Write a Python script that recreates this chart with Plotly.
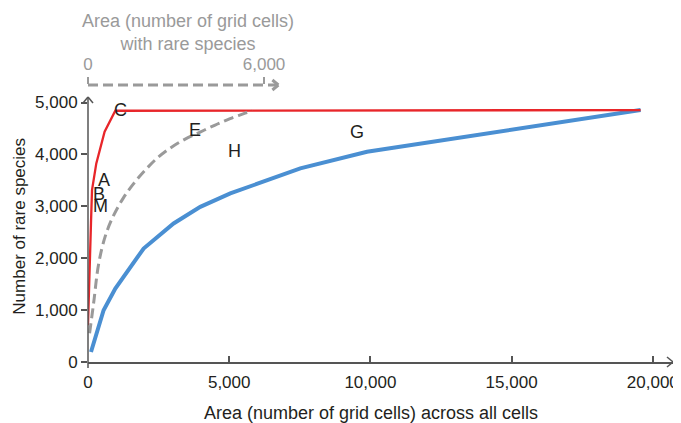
import plotly.graph_objects as go

# ---- data ----
# Red curve: all cells (bottom axis units)
red_x = [0, 57, 106, 142, 294, 588, 967, 19568]
red_y = [708, 2025, 2676, 3312, 3827, 4437, 4842, 4855]

# Blue curve: across all cells (bottom axis units)
blue_x = [106, 552, 967, 1969, 3031, 3977, 5039, 6809, 7518, 9880, 13421, 16962, 19568]
blue_y = [193, 997, 1416, 2187, 2670, 2990, 3248, 3601, 3731, 4051, 4340, 4630, 4855]

# Grey dashed curve: cells with rare species (top axis units)
gray_x = [54, 191, 361, 589, 861, 1202, 1542, 1950, 2359, 2801, 3312, 3822, 4333, 4844, 5354, 5592]
gray_y = [554, 1132, 1885, 2425, 2811, 3158, 3428, 3698, 3929, 4122, 4296, 4431, 4566, 4691, 4797, 4855]

# Region labels
label_text = ["A", "B", "M", "C", "E", "H", "G"]
label_x = [552, 375, 460, 1144, 3800, 5180, 9527]
label_y = [3505, 3229, 3004, 4855, 4470, 4065, 4437]

x_ticks = [0, 5000, 10000, 15000, 20000]
y_ticks = [0, 1000, 2000, 3000, 4000, 5000]
top_ticks = [0, 6000]
top_tick_text = ["0", "6,000"]

# ---- styling / geometry (page body has an 8px margin) ----
W, H = 673, 415
ML, MR, MT, MB = 80, 8, 77, 61.3
PLOT_W = W - ML - MR
PLOT_H = H - MT - MB
X_MAX = 20715
Y_MAX = 5338
TOP_SCALE = 1.039            # top axis units are slightly wider than bottom ones
TOP_ARROW = 6488             # end of the top dashed arrow (top-axis units)
Y_ARROW = 5106               # tip of the y-axis arrow (data units)

RED = "#e8262a"
BLUE = "#4a8fd2"
GRAY = "#9a9a9a"
AXIS = "#555555"
TEXT = "#231f20"
FONT = "Liberation Sans, Arial, sans-serif"
FS = 18      # titles and labels
TFS = 17     # tick labels

fig = go.Figure()
fig.add_trace(go.Scatter(x=blue_x, y=blue_y, mode="lines",
                         line=dict(color=BLUE, width=4), xaxis="x", yaxis="y"))
fig.add_trace(go.Scatter(x=gray_x, y=gray_y, mode="lines",
                         line=dict(color=GRAY, width=3, dash="10px,5px", shape="spline"),
                         xaxis="x2", yaxis="y"))
fig.add_trace(go.Scatter(x=red_x, y=red_y, mode="lines",
                         line=dict(color=RED, width=2.3), xaxis="x", yaxis="y"))

annotations = []
for t, x, y in zip(label_text, label_x, label_y):
    annotations.append(dict(text=t, x=x, y=y, xref="x", yref="y", showarrow=False,
                            font=dict(size=FS, color=TEXT, family=FONT),
                            xanchor="center", yanchor="middle"))

# top axis title
annotations.append(dict(text="Area (number of grid cells)<br>with rare species",
                        xref="paper", yref="paper", x=(180 - ML) / PLOT_W,
                        y=1 + (MT - 25) / PLOT_H, showarrow=False,
                        xanchor="center", yanchor="middle",
                        font=dict(size=FS, color=GRAY, family=FONT)))
# bottom axis title
annotations.append(dict(text="Area (number of grid cells) across all cells",
                        xref="paper", yref="paper", x=(363 - ML) / PLOT_W,
                        y=-(405 - (H - MB)) / PLOT_H, showarrow=False,
                        xanchor="center", yanchor="middle",
                        font=dict(size=FS, color=TEXT, family=FONT)))
# y axis title
annotations.append(dict(text="Number of rare species", textangle=-90,
                        xref="paper", yref="paper", x=(11.5 - ML) / PLOT_W,
                        y=((H - MB) - 218) / PLOT_H, showarrow=False,
                        xanchor="center", yanchor="middle",
                        font=dict(size=17, color=TEXT, family=FONT)))

shapes = [
    # y-axis line
    dict(type="line", xref="paper", yref="paper", x0=0, x1=0,
         y0=-6 / PLOT_H, y1=Y_ARROW / Y_MAX, line=dict(color=AXIS, width=1.5)),
    # y-axis arrowhead
    dict(type="line", xref="paper", yref="paper", xsizemode="pixel", ysizemode="pixel",
         xanchor=0, yanchor=Y_ARROW / Y_MAX, x0=-5, x1=0, y0=-6, y1=0,
         line=dict(color=AXIS, width=1.5)),
    dict(type="line", xref="paper", yref="paper", xsizemode="pixel", ysizemode="pixel",
         xanchor=0, yanchor=Y_ARROW / Y_MAX, x0=5, x1=0, y0=-6, y1=0,
         line=dict(color=AXIS, width=1.5)),
    # x-axis arrowhead
    dict(type="line", xref="paper", yref="paper", xsizemode="pixel", ysizemode="pixel",
         xanchor=1, yanchor=0, x0=-6, x1=0, y0=5, y1=0,
         line=dict(color=AXIS, width=1.5)),
    dict(type="line", xref="paper", yref="paper", xsizemode="pixel", ysizemode="pixel",
         xanchor=1, yanchor=0, x0=-6, x1=0, y0=-5, y1=0,
         line=dict(color=AXIS, width=1.5)),
    # top dashed arrow
    dict(type="line", xref="x2", yref="paper", x0=0, x1=TOP_ARROW, y0=1, y1=1,
         line=dict(color=GRAY, width=3, dash="10px,5px")),
    dict(type="line", xref="x2", yref="paper", xsizemode="pixel", ysizemode="pixel",
         xanchor=TOP_ARROW, yanchor=1, x0=-6, x1=0, y0=5, y1=0,
         line=dict(color=GRAY, width=3)),
    dict(type="line", xref="x2", yref="paper", xsizemode="pixel", ysizemode="pixel",
         xanchor=TOP_ARROW, yanchor=1, x0=-6, x1=0, y0=-5, y1=0,
         line=dict(color=GRAY, width=3)),
]

fig.update_layout(
    width=W, height=H,
    margin=dict(l=ML, r=MR, t=MT, b=MB, autoexpand=False),
    paper_bgcolor="white", plot_bgcolor="white",
    showlegend=False,
    font=dict(family=FONT, size=FS, color=TEXT),
    xaxis=dict(range=[0, X_MAX], tickvals=x_ticks, tickformat=",d",
               ticks="inside", ticklen=6, tickwidth=1.5, tickcolor=AXIS,
               showline=True, linecolor=AXIS, linewidth=1.5,
               showgrid=False, zeroline=False, ticklabelstandoff=4,
               tickfont=dict(size=TFS, color=TEXT, family=FONT)),
    yaxis=dict(range=[0, Y_MAX], tickvals=y_ticks, tickformat=",d",
               ticks="outside", ticklen=6, tickwidth=1.5, tickcolor=AXIS,
               showline=False, showgrid=False, zeroline=False,
               tickfont=dict(size=TFS, color=TEXT, family=FONT)),
    xaxis2=dict(overlaying="x", side="top", anchor="y",
                range=[0, X_MAX / TOP_SCALE], tickvals=top_ticks, ticktext=top_tick_text,
                ticks="outside", ticklen=7, tickwidth=1.5, tickcolor=GRAY,
                showline=False, showgrid=False, zeroline=False,
                tickfont=dict(size=TFS, color=GRAY, family=FONT)),
    annotations=annotations,
    shapes=shapes,
)

fig.write_html("out.html")
